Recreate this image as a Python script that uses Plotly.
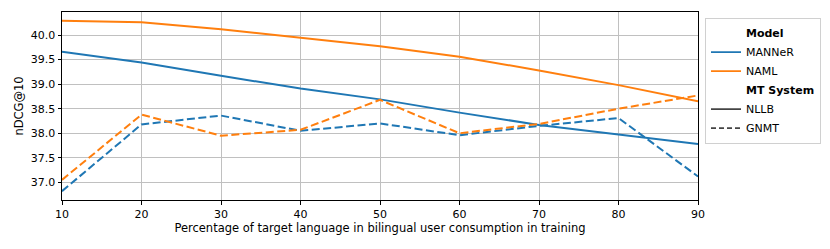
import plotly.graph_objects as go

x_pct = [10, 20, 30, 40, 50, 60, 70, 80, 90]
manner_nllb = [39.66, 39.44, 39.17, 38.91, 38.69, 38.42, 38.17, 37.98, 37.78]
naml_nllb = [40.29, 40.26, 40.12, 39.94, 39.77, 39.56, 39.28, 38.98, 38.65]
manner_gnmt = [36.82, 38.18, 38.36, 38.05, 38.20, 37.96, 38.15, 38.31, 37.12]
naml_gnmt = [37.05, 38.38, 37.95, 38.07, 38.68, 38.00, 38.19, 38.50, 38.77]

BLUE = "#1f77b4"
ORANGE = "#ff7f0e"
DARK = "#444444"
DASH = "8px,3.5px"
FONT = "DejaVu Sans"
FS = 11.5

fig = go.Figure()

series = [
    (manner_nllb, BLUE, "solid"),
    (naml_nllb, ORANGE, "solid"),
    (manner_gnmt, BLUE, DASH),
    (naml_gnmt, ORANGE, DASH),
]
for ys, col, dash in series:
    fig.add_trace(go.Scatter(x=x_pct, y=ys, mode="lines",
                             line=dict(color=col, width=2, dash=dash),
                             showlegend=False, hoverinfo="skip"))

legend_items = [
    ("<b>Model</b>", "rgba(0,0,0,0)", "solid"),
    ("MANNeR", BLUE, "solid"),
    ("NAML", ORANGE, "solid"),
    ("<b>MT System</b>", "rgba(0,0,0,0)", "solid"),
    ("NLLB", DARK, "solid"),
    ("GNMT", DARK, "5px,3px"),
]
for name, col, dash in legend_items:
    fig.add_trace(go.Scatter(x=[None], y=[None], mode="lines", name=name,
                             line=dict(color=col, width=1.8, dash=dash)))

# page body has an 8px margin; figure is sized/offset to compensate
fig.update_layout(
    width=822, height=241,
    margin=dict(l=54, r=132, t=4, b=49, autoexpand=False),
    paper_bgcolor="white", plot_bgcolor="white",
    font=dict(family=FONT, size=FS, color="black"),
    legend=dict(x=1.011, y=0.97, xanchor="left", yanchor="top",
                bgcolor="white", bordercolor="#d0d0d0", borderwidth=1,
                font=dict(size=11), itemwidth=30, tracegroupgap=0),
)
fig.update_xaxes(
    range=[10, 90], tickvals=[10, 20, 30, 40, 50, 60, 70, 80, 90],
    tickfont=dict(size=11),
    showgrid=True, gridcolor="#c0c0c0", gridwidth=1, automargin=False,
    showline=True, linecolor="black", linewidth=1, mirror=True,
    ticks="outside", ticklen=3.5, tickcolor="black", zeroline=False,
    title=dict(text="Percentage of target language in bilingual user consumption in training",
               font=dict(size=FS), standoff=2),
)
fig.update_yaxes(
    range=[36.64, 40.47], tickvals=[37.0, 37.5, 38.0, 38.5, 39.0, 39.5, 40.0],
    ticktext=["37.0", "37.5", "38.0", "38.5", "39.0", "39.5", "40.0"],
    tickfont=dict(size=11),
    showgrid=True, gridcolor="#c0c0c0", gridwidth=1, automargin=False,
    showline=True, linecolor="black", linewidth=1, mirror=True,
    ticks="outside", ticklen=3.5, tickcolor="black", zeroline=False,
    title=dict(text="nDCG@10", font=dict(size=FS), standoff=4),
)

fig.write_html("out.html")
